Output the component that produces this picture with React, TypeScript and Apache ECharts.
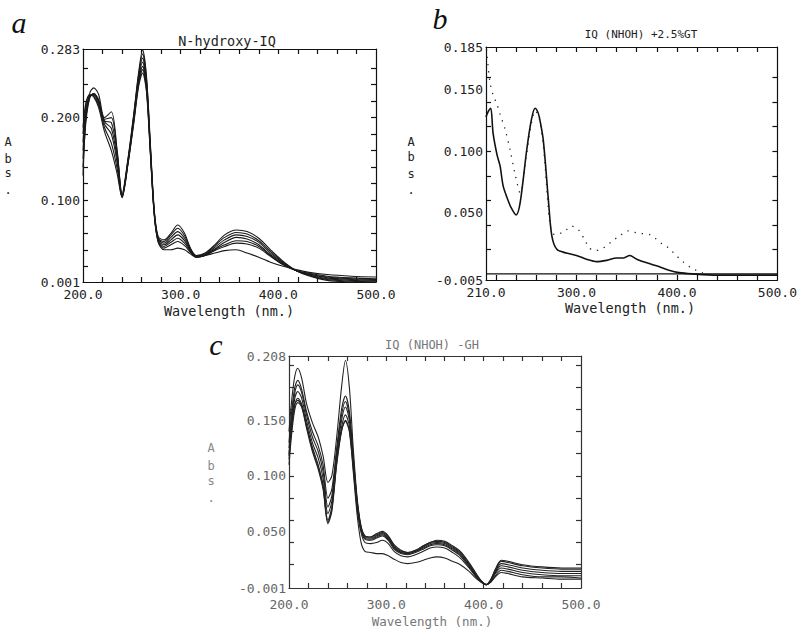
import React, { useEffect, useRef } from "react";
import * as echarts from "echarts";

// ---------- Panel a: N-hydroxy-IQ ----------
const WL_A = [200, 203, 207, 211, 216, 222, 229, 235, 240, 246, 252, 257, 261, 265, 269, 273, 277, 283, 290, 297, 304, 310, 316, 325, 335, 345, 357, 368, 380, 392, 405, 418, 430, 450, 475, 500];
const A0 = [0.130, 0.200, 0.230, 0.236, 0.228, 0.200, 0.207, 0.160, 0.108, 0.150, 0.205, 0.255, 0.282, 0.250, 0.168, 0.088, 0.056, 0.052, 0.060, 0.070, 0.060, 0.042, 0.033, 0.036, 0.046, 0.058, 0.064, 0.062, 0.054, 0.040, 0.026, 0.015, 0.009, 0.003, 0.001, 0.000];
const A1 = [0.140, 0.195, 0.224, 0.229, 0.222, 0.198, 0.200, 0.158, 0.106, 0.148, 0.203, 0.252, 0.277, 0.247, 0.165, 0.086, 0.054, 0.050, 0.058, 0.066, 0.057, 0.041, 0.033, 0.035, 0.045, 0.055, 0.061, 0.059, 0.051, 0.038, 0.025, 0.015, 0.010, 0.004, 0.002, 0.001];
const A2 = [0.150, 0.200, 0.225, 0.229, 0.220, 0.196, 0.194, 0.155, 0.105, 0.147, 0.201, 0.250, 0.272, 0.243, 0.163, 0.085, 0.053, 0.048, 0.055, 0.062, 0.054, 0.040, 0.032, 0.034, 0.043, 0.052, 0.058, 0.056, 0.049, 0.036, 0.024, 0.015, 0.010, 0.005, 0.003, 0.002];
const A3 = [0.160, 0.205, 0.226, 0.228, 0.219, 0.195, 0.187, 0.150, 0.104, 0.146, 0.199, 0.247, 0.267, 0.240, 0.161, 0.084, 0.052, 0.046, 0.052, 0.058, 0.051, 0.039, 0.032, 0.034, 0.041, 0.049, 0.055, 0.053, 0.046, 0.034, 0.023, 0.015, 0.011, 0.006, 0.004, 0.003];
const A4 = [0.170, 0.210, 0.226, 0.227, 0.217, 0.192, 0.180, 0.145, 0.104, 0.145, 0.197, 0.244, 0.262, 0.237, 0.159, 0.083, 0.051, 0.044, 0.049, 0.054, 0.048, 0.038, 0.031, 0.033, 0.040, 0.046, 0.051, 0.050, 0.044, 0.033, 0.022, 0.015, 0.011, 0.007, 0.005, 0.004];
const A5 = [0.180, 0.215, 0.227, 0.226, 0.215, 0.188, 0.169, 0.138, 0.104, 0.144, 0.195, 0.241, 0.258, 0.234, 0.157, 0.082, 0.050, 0.042, 0.046, 0.050, 0.045, 0.037, 0.031, 0.033, 0.039, 0.044, 0.048, 0.047, 0.042, 0.032, 0.022, 0.015, 0.012, 0.008, 0.006, 0.005];
const A6 = [0.188, 0.218, 0.228, 0.225, 0.212, 0.183, 0.160, 0.132, 0.103, 0.143, 0.193, 0.238, 0.254, 0.231, 0.155, 0.081, 0.049, 0.040, 0.040, 0.042, 0.040, 0.035, 0.031, 0.033, 0.036, 0.039, 0.040, 0.036, 0.031, 0.025, 0.020, 0.016, 0.013, 0.010, 0.008, 0.007];
const A_CURVES = [A0, A1, A2, A3, A4, A5, A6];

// ---------- Panel b: IQ (NHOH) +2.5%GT ----------
const WL_B_SOLID = [210, 212, 214.7, 217, 221, 224, 227, 231, 235, 240, 244, 250.5, 255, 258.8, 261, 263, 267, 272, 275.5, 280.5, 290, 300, 310, 320, 330, 340, 347, 353, 360, 370, 382, 392, 402, 415, 440, 470, 500];
const B_SOLID = [0.128, 0.132, 0.135, 0.115, 0.097, 0.088, 0.072, 0.062, 0.054, 0.048, 0.058, 0.101, 0.125, 0.135, 0.133, 0.128, 0.109, 0.061, 0.031, 0.020, 0.017, 0.015, 0.012, 0.010, 0.011, 0.013, 0.013, 0.015, 0.012, 0.009, 0.006, 0.003, 0.001, 0.000, -0.001, -0.001, -0.001];
const WL_B_DOT = [210.5, 212, 214, 217, 221, 224, 229, 234, 239, 244, 250, 255, 259, 263, 267, 270, 273, 276, 281, 286, 290, 295, 302, 308, 313, 318, 324, 330, 336, 343, 351, 357, 363, 373, 380, 386, 392, 398, 406, 414, 425, 430];
const B_DOT = [0.183, 0.170, 0.156, 0.146, 0.138, 0.130, 0.118, 0.101, 0.081, 0.066, 0.095, 0.122, 0.133, 0.127, 0.105, 0.075, 0.045, 0.033, 0.032, 0.034, 0.036, 0.039, 0.036, 0.028, 0.021, 0.019, 0.020, 0.023, 0.027, 0.031, 0.035, 0.034, 0.033, 0.032, 0.028, 0.024, 0.021, 0.016, 0.010, 0.005, 0.001, 0.000];
const WL_B_BASE = [210, 500];
const B_BASE = [0, 0];

// ---------- Panel c: IQ (NHOH) -GH ----------
const WL_C = [200, 203, 206, 209, 213, 218, 224, 230, 235, 240, 244, 249, 254, 258, 262, 266, 270, 274, 278, 284, 290, 296, 302, 308, 315, 322, 330, 338, 345, 352, 360, 368, 376, 385, 393, 398, 402.5, 407, 412, 418, 425, 440, 460, 480, 500];
const C0 = [0.140, 0.170, 0.190, 0.197, 0.188, 0.165, 0.148, 0.135, 0.118, 0.094, 0.100, 0.135, 0.180, 0.204, 0.180, 0.125, 0.080, 0.055, 0.046, 0.045, 0.048, 0.050, 0.046, 0.038, 0.033, 0.031, 0.033, 0.037, 0.040, 0.042, 0.041, 0.037, 0.032, 0.022, 0.011, 0.005, 0.002, 0.006, 0.016, 0.024, 0.023, 0.020, 0.018, 0.017, 0.017];
const C1 = [0.130, 0.160, 0.180, 0.186, 0.178, 0.158, 0.140, 0.127, 0.110, 0.080, 0.088, 0.125, 0.160, 0.172, 0.158, 0.118, 0.078, 0.054, 0.046, 0.045, 0.047, 0.049, 0.045, 0.037, 0.032, 0.031, 0.033, 0.037, 0.040, 0.041, 0.040, 0.036, 0.031, 0.021, 0.010, 0.005, 0.002, 0.006, 0.015, 0.023, 0.022, 0.019, 0.017, 0.016, 0.016];
const C2 = [0.125, 0.155, 0.175, 0.182, 0.175, 0.155, 0.135, 0.122, 0.104, 0.072, 0.082, 0.121, 0.155, 0.167, 0.154, 0.116, 0.077, 0.053, 0.045, 0.044, 0.046, 0.048, 0.044, 0.036, 0.031, 0.030, 0.032, 0.036, 0.039, 0.040, 0.039, 0.035, 0.030, 0.020, 0.010, 0.005, 0.002, 0.006, 0.014, 0.021, 0.020, 0.017, 0.015, 0.014, 0.014];
const C3 = [0.120, 0.150, 0.170, 0.176, 0.170, 0.150, 0.130, 0.116, 0.098, 0.066, 0.077, 0.118, 0.150, 0.162, 0.150, 0.113, 0.075, 0.052, 0.044, 0.043, 0.045, 0.047, 0.043, 0.035, 0.031, 0.030, 0.032, 0.035, 0.038, 0.039, 0.038, 0.034, 0.029, 0.019, 0.009, 0.004, 0.002, 0.005, 0.013, 0.019, 0.018, 0.015, 0.013, 0.012, 0.012];
const C4 = [0.115, 0.145, 0.164, 0.170, 0.165, 0.146, 0.126, 0.110, 0.092, 0.060, 0.072, 0.114, 0.144, 0.155, 0.145, 0.110, 0.073, 0.051, 0.043, 0.042, 0.044, 0.046, 0.042, 0.034, 0.030, 0.029, 0.031, 0.034, 0.037, 0.038, 0.037, 0.033, 0.028, 0.018, 0.009, 0.004, 0.002, 0.005, 0.012, 0.017, 0.016, 0.013, 0.011, 0.010, 0.010];
const C5 = [0.110, 0.140, 0.160, 0.166, 0.162, 0.143, 0.122, 0.106, 0.088, 0.057, 0.068, 0.110, 0.140, 0.150, 0.141, 0.107, 0.070, 0.049, 0.040, 0.039, 0.040, 0.042, 0.039, 0.032, 0.028, 0.027, 0.029, 0.032, 0.035, 0.036, 0.035, 0.031, 0.026, 0.017, 0.008, 0.004, 0.002, 0.004, 0.010, 0.015, 0.014, 0.011, 0.009, 0.009, 0.008];
const C6 = [0.118, 0.148, 0.165, 0.168, 0.163, 0.145, 0.124, 0.108, 0.090, 0.058, 0.070, 0.112, 0.141, 0.149, 0.140, 0.104, 0.065, 0.040, 0.032, 0.031, 0.030, 0.030, 0.028, 0.025, 0.022, 0.021, 0.022, 0.024, 0.026, 0.027, 0.026, 0.023, 0.020, 0.014, 0.007, 0.004, 0.002, 0.004, 0.009, 0.013, 0.012, 0.009, 0.008, 0.007, 0.007];
const C_CURVES = [C0, C1, C2, C3, C4, C5, C6];

// ---------- Tick labels ----------
const A_X_LABELS = [200, 300, 400, 500];
const A_Y_LABELS = [0.001, 0.1, 0.2, 0.283];
const B_X_LABELS = [210, 300, 400, 500];
const B_Y_LABELS = [-0.005, 0.05, 0.1, 0.15, 0.185];
const C_X_LABELS = [200, 300, 400, 500];
const C_Y_LABELS = [-0.001, 0.05, 0.1, 0.15, 0.208];

const TITLES = ["N-hydroxy-IQ", "IQ (NHOH) +2.5%GT", "IQ (NHOH) -GH"];
const X_NAME = "Wavelength (nm.)";
const Y_NAME = ["A", "b", "s", "."];

const MONO = "DejaVu Sans Mono";

function range(from: number, to: number, step: number) {
  const r: number[] = [];
  for (let v = from; v <= to + 1e-9; v += step) r.push(+v.toFixed(4));
  return r;
}

function pairs(wl: number[], vals: number[]) {
  return wl.map((w, i) => [w, vals[i]]);
}

export default function App() {
  const ref = useRef<HTMLDivElement>(null);
  useEffect(() => {
    if (!ref.current) return;
    const chart = echarts.init(ref.current, undefined, { renderer: "svg" });

    const grids = [
      { left: 83, top: 49, width: 293, height: 233 },
      { left: 486, top: 47, width: 292, height: 233 },
      { left: 289, top: 356, width: 292, height: 232 },
    ];
    const xr = [
      { min: 200, max: 500, labels: A_X_LABELS, margin: 6, color: "#222" },
      { min: 210, max: 500, labels: B_X_LABELS, margin: 6, color: "#222" },
      { min: 200, max: 500, labels: C_X_LABELS, margin: 10, color: "#666" },
    ];
    const yr = [
      { min: 0.001, max: 0.283, labels: A_Y_LABELS, color: "#222" },
      { min: -0.005, max: 0.185, labels: B_Y_LABELS, color: "#222" },
      { min: -0.001, max: 0.208, labels: C_Y_LABELS, color: "#666" },
    ];
    const axisCol = ["#111", "#111", "#333"];
    const TL = 5;

    const xAxis: any[] = [];
    const yAxis: any[] = [];
    ["bottom", "top"].forEach((pos) => {
      for (let g = 0; g < 3; g++) {
        const x = xr[g];
        xAxis.push({
          type: "value", gridIndex: g, min: x.min, max: x.max, position: pos,
          axisLine: { show: true, onZero: false, lineStyle: { color: axisCol[g], width: 1.2 } },
          axisTick: { show: true, inside: true, length: TL, customValues: range(220, 480, 20), lineStyle: { color: axisCol[g], width: 1.2 } },
          axisLabel: pos === "bottom"
            ? { customValues: x.labels, formatter: (v: number) => v.toFixed(1), fontFamily: MONO, fontSize: 13, color: x.color, margin: x.margin }
            : { show: false },
          splitLine: { show: false },
        });
      }
    });
    ["left", "right"].forEach((pos) => {
      for (let g = 0; g < 3; g++) {
        const y = yr[g];
        yAxis.push({
          type: "value", gridIndex: g, min: y.min, max: y.max, position: pos,
          axisLine: { show: true, onZero: false, lineStyle: { color: axisCol[g], width: 1.2 } },
          axisTick: { show: true, inside: true, length: TL, customValues: range(0.02, y.max - 0.006, 0.02), lineStyle: { color: axisCol[g], width: 1.2 } },
          axisLabel: pos === "left"
            ? { customValues: y.labels, formatter: (v: number) => v.toFixed(3), fontFamily: MONO, fontSize: 13, color: y.color, margin: 3 }
            : { show: false },
          splitLine: { show: false },
        });
      }
    });

    const series: any[] = [];
    A_CURVES.forEach((c, i) => {
      series.push({
        type: "line", name: "a" + i, xAxisIndex: 0, yAxisIndex: 0,
        data: pairs(WL_A, c), showSymbol: false, smooth: 0.3,
        lineStyle: { color: "#1a1a1a", width: 1.1 }, z: 3,
      });
    });
    series.push({
      type: "line", name: "b-solid", xAxisIndex: 1, yAxisIndex: 1,
      data: pairs(WL_B_SOLID, B_SOLID), showSymbol: false, smooth: 0.3,
      lineStyle: { color: "#111", width: 1.6 }, z: 3,
    });
    series.push({
      type: "line", name: "b-dotted", xAxisIndex: 1, yAxisIndex: 1,
      data: pairs(WL_B_DOT, B_DOT), showSymbol: false, smooth: 0.3,
      lineStyle: { color: "#222", width: 1.3, type: [1.3, 6] }, z: 3,
    });
    series.push({
      type: "line", name: "b-base", xAxisIndex: 1, yAxisIndex: 1,
      data: pairs(WL_B_BASE, B_BASE), showSymbol: false,
      lineStyle: { color: "#111", width: 1.2 }, z: 2,
    });
    C_CURVES.forEach((c, i) => {
      series.push({
        type: "line", name: "c" + i, xAxisIndex: 2, yAxisIndex: 2,
        data: pairs(WL_C, c), showSymbol: false, smooth: 0.3,
        lineStyle: { color: "#222", width: 1.1 }, z: 3,
      });
    });

    const txt = (x: number, y: number, text: string, size: number, color: string) => ({
      type: "text", x, y,
      style: { text, fontSize: size, fontFamily: MONO, fill: color, align: "center", verticalAlign: "middle" },
    });
    const letter = (x: number, y: number, t: string) => ({
      type: "text", x, y,
      style: { text: t, fontSize: 30, fontFamily: "Liberation Serif", fontStyle: "italic", fill: "#111", align: "center", verticalAlign: "middle" },
    });

    const graphic: any[] = [
      letter(19, 22, "a"),
      letter(440, 18, "b"),
      letter(216, 344, "c"),
      txt(227, 41, TITLES[0], 13.5, "#222"),
      txt(641, 34, TITLES[1], 11, "#222"),
      txt(432, 345, TITLES[2], 12, "#777"),
      txt(229, 311, X_NAME, 13.5, "#222"),
      txt(630, 308, X_NAME, 13.5, "#222"),
      txt(432, 621, X_NAME, 12.5, "#777"),
    ];
    const absPos = [
      { x: 8, ys: [142, 159, 173, 190] },
      { x: 411, ys: [142, 157, 174, 190] },
      { x: 211, ys: [448, 466, 481, 498] },
    ];
    absPos.forEach((p, g) => {
      Y_NAME.forEach((ch, k) => {
        graphic.push(txt(p.x, p.ys[k], ch, 12, g === 2 ? "#888" : "#222"));
      });
    });

    chart.setOption({
      animation: false,
      backgroundColor: "#fff",
      grid: grids.map((g) => ({ ...g, containLabel: false })),
      xAxis,
      yAxis,
      series,
      graphic,
    });

    return () => chart.dispose();
  }, []);

  return (
    <div
      ref={ref}
      style={{ position: "absolute", left: 0, top: 0, width: 800, height: 634, background: "#fff" }}
    />
  );
}
